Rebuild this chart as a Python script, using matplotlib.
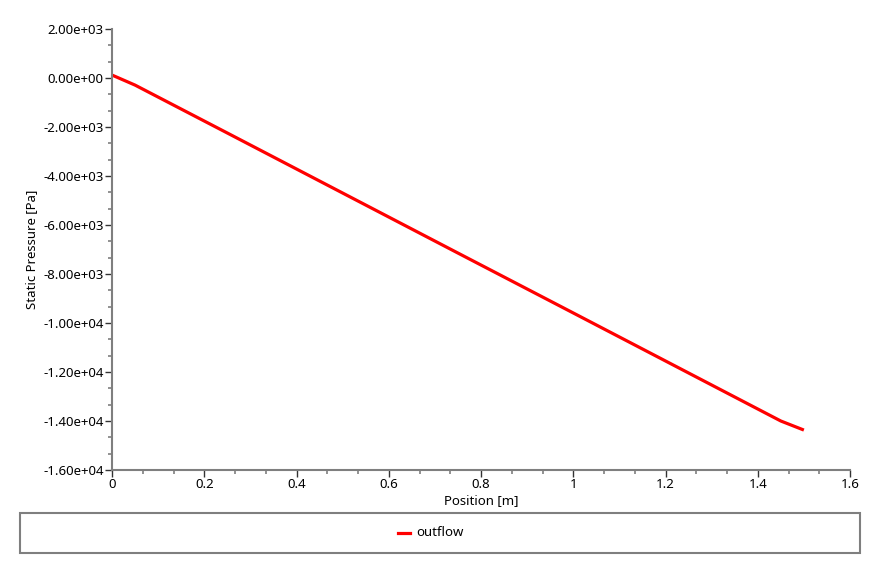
import matplotlib
matplotlib.use("Agg")
import matplotlib.pyplot as plt
from matplotlib.ticker import MultipleLocator, AutoMinorLocator, FuncFormatter
from matplotlib.patches import Rectangle
from matplotlib.lines import Line2D

plt.rcParams['font.family'] = ['Noto Sans', 'DejaVu Sans']

# outflow 线上的静压分布
position = [0.0, 0.05, 0.25, 0.5, 0.75, 1.0, 1.25, 1.45, 1.5]
pressure = [120, -290, -2245, -4695, -7145, -9590, -12040, -14000, -14370]
series_name = "outflow"

grey = "#7f7f7f"

fig = plt.figure(figsize=(8.8, 5.74), dpi=100)
ax = fig.add_axes([112 / 880, 1 - 470 / 574, 738 / 880, 441 / 574])

ax.plot(position, pressure, color="red", lw=2.3, solid_capstyle="butt")

ax.set_xlim(0, 1.6)
ax.set_ylim(-16000, 2000)
ax.xaxis.set_major_locator(MultipleLocator(0.2))
ax.yaxis.set_major_locator(MultipleLocator(2000))
ax.xaxis.set_minor_locator(AutoMinorLocator(3))
ax.yaxis.set_minor_locator(AutoMinorLocator(3))
ax.xaxis.set_major_formatter(FuncFormatter(lambda v, p: f"{v:g}"))
ax.yaxis.set_major_formatter(FuncFormatter(lambda v, p: f"{v:.2e}"))

for s in ["top", "right"]:
    ax.spines[s].set_visible(False)
for s in ["left", "bottom"]:
    ax.spines[s].set_color(grey)
    ax.spines[s].set_linewidth(1.5)

ax.tick_params(which="major", direction="out", length=5, width=1, color="#333333",
               labelsize=9.5, pad=1)
ax.tick_params(which="minor", direction="out", length=3, width=1.2, color=grey)

ax.set_xlabel("Position [m]", fontsize=9.5, labelpad=2)
ax.set_ylabel("Static Pressure [Pa]", fontsize=9.5, labelpad=4)

# 图例框
fig.patches.append(Rectangle((20 / 880, 1 - 553 / 574), 840 / 880, 40 / 574,
                             transform=fig.transFigure, fill=False,
                             edgecolor=grey, lw=1.5))
fig.lines.append(Line2D([398 / 880, 410 / 880], [1 - 533 / 574, 1 - 533 / 574],
                        transform=fig.transFigure, color="red", lw=2.3))
fig.text(416 / 880, 1 - 533 / 574, series_name, fontsize=9.5, va="center", ha="left")

fig.savefig("out.png", dpi=100)
